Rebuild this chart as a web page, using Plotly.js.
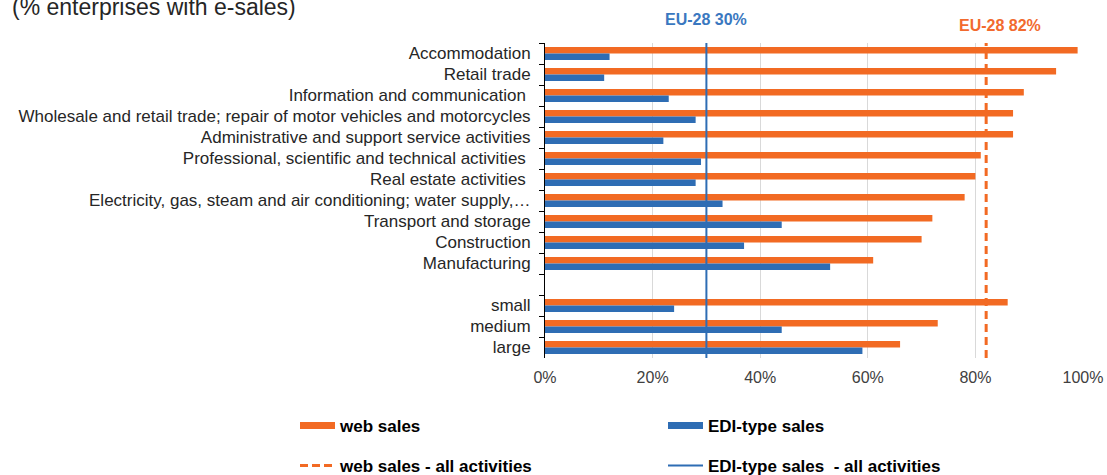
<!DOCTYPE html>
<html><head><meta charset="utf-8">
<script src="https://cdn.plot.ly/plotly-3.0.1.min.js"></script>
<style>html,body{margin:0;padding:0;background:#fff}</style>
</head><body><div id="chart" style="width:1107px;height:475px"></div>
<script>
const categories = [
  'Accommodation',
  'Retail trade',
  'Information and communication\u00a0',
  'Wholesale and retail trade; repair of motor vehicles and motorcycles',
  'Administrative and support service activities',
  'Professional, scientific and technical activities\u00a0',
  'Real estate activities\u00a0',
  'Electricity, gas, steam and air conditioning; water supply,…',
  'Transport and storage',
  'Construction',
  'Manufacturing',
  ' ',
  'small',
  'medium',
  'large'
];
const webSales = [99, 95, 89, 87, 87, 81, 80, 78, 72, 70, 61, null, 86, 73, 66];
const ediSales = [12, 11, 23, 28, 22, 29, 28, 33, 44, 37, 53, null, 24, 44, 59];
const euWebSales = 82;
const euEdiSales = 30;
const xTickVals = [0, 20, 40, 60, 80, 100];
const xTickText = xTickVals.map(v => v + '%');
const seriesNames = ['web sales', 'EDI-type sales', 'web sales - all activities', 'EDI-type sales  - all activities'];
const titleText = '(% enterprises with e-sales)';

const ORANGE = '#F26A23';
const BLUE = '#2E6DB4';
const FONT = 'Liberation Sans, Arial, sans-serif';

const traces = [
  {type: 'bar', orientation: 'h', name: seriesNames[0], y: categories, x: webSales,
   marker: {color: ORANGE}, showlegend: false, hoverinfo: 'x+y'},
  {type: 'bar', orientation: 'h', name: seriesNames[1], y: categories, x: ediSales,
   marker: {color: BLUE}, showlegend: false, hoverinfo: 'x+y'},
  // legend keys
  {type: 'scatter', mode: 'lines', name: '<b>' + seriesNames[0] + '</b>', x: [null], y: [null],
   line: {color: ORANGE, width: 7}, legend: 'legend', hoverinfo: 'skip'},
  {type: 'scatter', mode: 'lines', name: '<b>' + seriesNames[1] + '</b>', x: [null], y: [null],
   line: {color: BLUE, width: 7}, legend: 'legend2', hoverinfo: 'skip'},
  {type: 'scatter', mode: 'lines', name: '<b>' + seriesNames[2] + '</b>', x: [null], y: [null],
   line: {color: ORANGE, width: 3, dash: '8px,4px'}, legend: 'legend3', hoverinfo: 'skip'},
  {type: 'scatter', mode: 'lines', name: '<b>' + seriesNames[3].replace('  ', ' \u00a0') + '</b>', x: [null], y: [null],
   line: {color: BLUE, width: 2}, legend: 'legend4', hoverinfo: 'skip'}
];

function legendAt(xPx, yPx) {
  return {
    orientation: 'h', xref: 'container', yref: 'container',
    x: xPx / 1107, xanchor: 'left', y: 1 - yPx / 475, yanchor: 'middle',
    itemwidth: 35,
    font: {family: FONT, size: 17, color: '#000'}, bgcolor: 'rgba(0,0,0,0)'
  };
}

const layout = {
  width: 1107, height: 475,
  margin: {l: 545, r: 24, t: 42.5, b: 116.5},
  paper_bgcolor: '#fff', plot_bgcolor: '#fff',
  font: {family: FONT, size: 17, color: '#262626'},
  title: {text: titleText, xref: 'container', yref: 'container', x: 12 / 1107, xanchor: 'left',
          y: 1 - 7 / 475, yanchor: 'middle', font: {family: FONT, size: 23, color: '#262626'}},
  barmode: 'group', bargap: 0.38, bargroupgap: 0,
  xaxis: {range: [0, 100], tickvals: xTickVals, ticktext: xTickText, showgrid: true,
          gridcolor: '#d9d9d9', gridwidth: 1, zeroline: false, showline: false, ticks: '',
          ticklabelstandoff: 8,
          tickfont: {family: FONT, size: 16, color: '#404040'}, fixedrange: true},
  yaxis: {type: 'category', autorange: 'reversed', showline: true, linecolor: '#000', linewidth: 1,
          ticks: 'outside', tickson: 'boundaries', ticklen: 5, tickcolor: '#000', showgrid: false,
          ticklabelstandoff: 10,
          tickfont: {family: FONT, size: 17, color: '#262626'}, fixedrange: true},
  shapes: [
    {type: 'line', xref: 'x', yref: 'paper', x0: euEdiSales, x1: euEdiSales, y0: 0, y1: 1,
     line: {color: BLUE, width: 2}},
    {type: 'line', xref: 'x', yref: 'paper', x0: euWebSales, x1: euWebSales, y0: 0, y1: 1,
     line: {color: ORANGE, width: 3, dash: '8px,5px'}}
  ],
  annotations: [
    {xref: 'x', yref: 'paper', x: euEdiSales, y: (358.5 - 19) / 316, text: '<b>EU-28 ' + euEdiSales + '%</b>',
     showarrow: false, xanchor: 'center', yanchor: 'middle', font: {family: FONT, size: 16, color: '#3A78C0'}},
    {xref: 'x', yref: 'paper', x: euWebSales, xshift: 14, y: (358.5 - 25) / 316, text: '<b>EU-28 ' + euWebSales + '%</b>',
     showarrow: false, xanchor: 'center', yanchor: 'middle', font: {family: FONT, size: 16, color: '#F26A2E'}}
  ],
  legend: legendAt(295, 426),
  legend2: legendAt(663, 426),
  legend3: legendAt(295, 466),
  legend4: legendAt(663, 466),
  showlegend: true
};

Plotly.newPlot('chart', traces, layout, {displayModeBar: false, staticPlot: true});
</script></body></html>
